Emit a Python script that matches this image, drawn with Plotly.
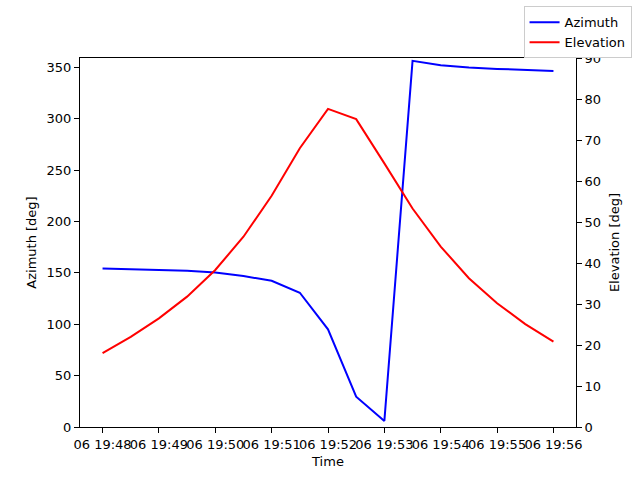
import pandas as pd
import plotly.graph_objects as go

# samples every 30 s
times = pd.date_range("2024-05-06 19:48:00", "2024-05-06 19:56:00", freq="30s")
azimuth = [154.3, 153.6, 153.0, 152.0, 150.4, 146.8, 142.3, 130.6, 95.0,
           29.5, 5.8, 356.2, 352.0, 349.7, 348.4, 347.1, 346.4]
elevation = [18.0, 22.0, 26.5, 31.8, 38.3, 46.4, 56.4, 68.0, 77.6,
             75.1, 64.3, 53.3, 44.0, 36.3, 30.2, 25.1, 20.8]

FONT = dict(family="DejaVu Sans", size=13, color="black")

fig = go.Figure()
fig.add_trace(go.Scatter(x=times, y=azimuth, mode="lines", name="Azimuth",
                         line=dict(color="blue", width=2)))
fig.add_trace(go.Scatter(x=times, y=elevation, mode="lines", name="Elevation",
                         line=dict(color="red", width=2), yaxis="y2"))

axis_common = dict(showline=True, linecolor="black", linewidth=1, ticks="outside",
                   ticklen=5, tickcolor="black", showgrid=False, zeroline=False,
                   tickfont=FONT, title_font=FONT, automargin=False)

fig.update_layout(
    width=640, height=480,
    margin=dict(l=80, r=64, t=58, b=53, autoexpand=False),
    paper_bgcolor="white",
    plot_bgcolor="white",
    font=FONT,
    xaxis=dict(
        **axis_common,
        mirror=True,
        title=dict(text="Time", standoff=6),
        type="date",
        range=[pd.Timestamp("2024-05-06 19:47:36"), pd.Timestamp("2024-05-06 19:56:24")],
        tickmode="linear",
        tick0="2024-05-06 19:48:00",
        dtick=60000,
        tickformat="%d %H:%M",
        tickangle=0,
    ),
    yaxis=dict(
        **axis_common,
        title=dict(text="Azimuth [deg]", standoff=7),
        range=[0, 359],
        tickmode="linear", tick0=0, dtick=50,
    ),
    yaxis2=dict(
        **axis_common,
        title=dict(text="Elevation [deg]", standoff=9),
        overlaying="y",
        side="right",
        range=[0, 90],
        tickmode="linear", tick0=0, dtick=10,
    ),
    legend=dict(
        x=1.112, y=1.14, xanchor="right", yanchor="top",
        bordercolor="#cccccc", borderwidth=1, bgcolor="white",
        font=FONT, tracegroupgap=0,
    ),
    showlegend=True,
)

# drop the browser's default page margin so the figure sits at 0,0
fig.write_html("out.html", config={"displayModeBar": False},
               post_script="document.body.style.margin='0';")
